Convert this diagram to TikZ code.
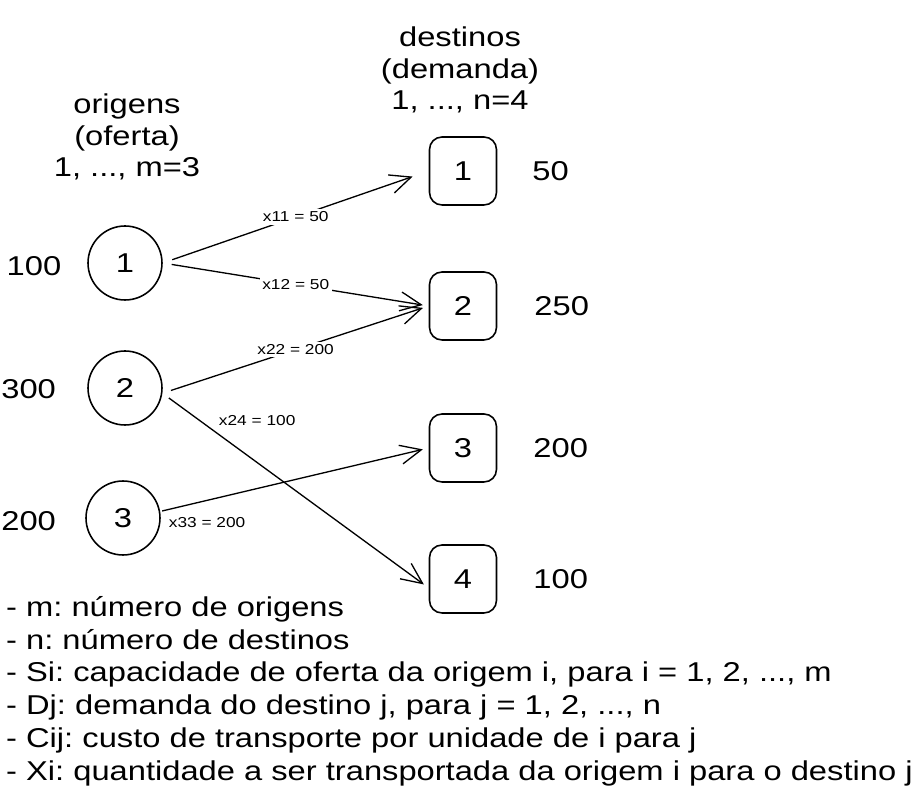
\documentclass[tikz,border=0pt]{standalone}
\usepackage{fontspec}
\setmainfont[FakeStretch=1.2]{Liberation Sans}
\usetikzlibrary{arrows.meta,positioning}
\frenchspacing

\begin{document}
\begin{tikzpicture}[x=0.02cm,y=-0.02cm,
  origem/.style={circle,draw,line width=0.9pt,minimum size=1.48cm,inner sep=0pt,font=\fontsize{15.5}{18}\selectfont},
  destino/.style={draw,rounded corners=0.25cm,line width=0.9pt,minimum width=1.34cm,minimum height=1.36cm,inner sep=0pt,font=\fontsize{15.5}{18}\selectfont},
  valor/.style={font=\fontsize{15.5}{18}\selectfont},
  fluxo/.style={-{Straight Barb[length=0.42cm,width=0.38cm]},line width=0.75pt,shorten <=0.2cm,shorten >=0.12cm},
  rotulo/.style={font=\fontsize{8.2}{10}\selectfont,fill=white,inner sep=1.5pt}]
\useasboundingbox (0,0) rectangle (921,800);

% cabecalhos
\node [valor,align=center] (cabo) at (127,137) {origens\\(oferta)\\1, ..., m=3};
\node [valor,align=center] (cabd) at (460,70) {destinos\\(demanda)\\1, ..., n=4};

% origens
       \node [origem]  (o1) at (125,263) {1};
       \node [origem]  (o2) at (125,388) {2};
       \node [origem]  (o3) at (123,518) {3};
       \node [valor]  (s1) at (34,266) {100};
       \node [valor,anchor=west,inner sep=0pt]  (s2) at (1,389) {300};
       \node [valor,anchor=west,inner sep=0pt]  (s3) at (1,521) {200};

% destinos
       \node [destino]  (d1) at (463,171) {1};
       \node [destino]  (d2) at (463,306) {2};
       \node [destino]  (d3) at (463,448) {3};
       \node [destino]  (d4) at (463,579) {4};
       \node [valor,right=0.58cm of d1]  (q1) {50};
       \node [valor,right=0.62cm of d2]  (q2) {250};
       \node [valor,right=0.6cm of d3]  (q3) {200};
       \node [valor,right=0.6cm of d4]  (q4) {100};

% fluxos
\draw [fluxo,shorten >=0.34cm] (o1.east) -- node[rotulo,midway] (x11) {x11 = 50} (d1.west);
\draw [fluxo,shorten <=0.18cm] (o1.east) -- node[rotulo,midway] (x12) {x12 = 50} (d2.west);
\draw [fluxo,shorten <=0.18cm] (o2.-8) -- node[rotulo,midway] (x22) {x22 = 200} (d2.west);
\draw [fluxo,shorten <=0.16cm] (o2.-8) -- node[rotulo,pos=0.2,anchor=south west,fill=none,yshift=0.06cm] (x24) {x24 = 100} ([yshift=-0.18cm]d4.west);
\draw [fluxo,shorten <=0.04cm] (o3.10) -- node[rotulo,pos=0.02,anchor=north west,fill=none,yshift=-0.08cm] (x33) {x33 = 200} (d3.west);

% legenda
\node [valor,anchor=north west,align=left,font=\fontsize{15.5}{18.7}\selectfont] (leg) at (0,590) {- m: número de origens\\- n: número de destinos\\- Si: capacidade de oferta da origem i, para i = 1, 2, ..., m\\- Dj: demanda do destino j, para j = 1, 2, ..., n\\- Cij: custo de transporte por unidade de i para j\\- Xi: quantidade a ser transportada da origem i para o destino j};
\end{tikzpicture}
\end{document}
